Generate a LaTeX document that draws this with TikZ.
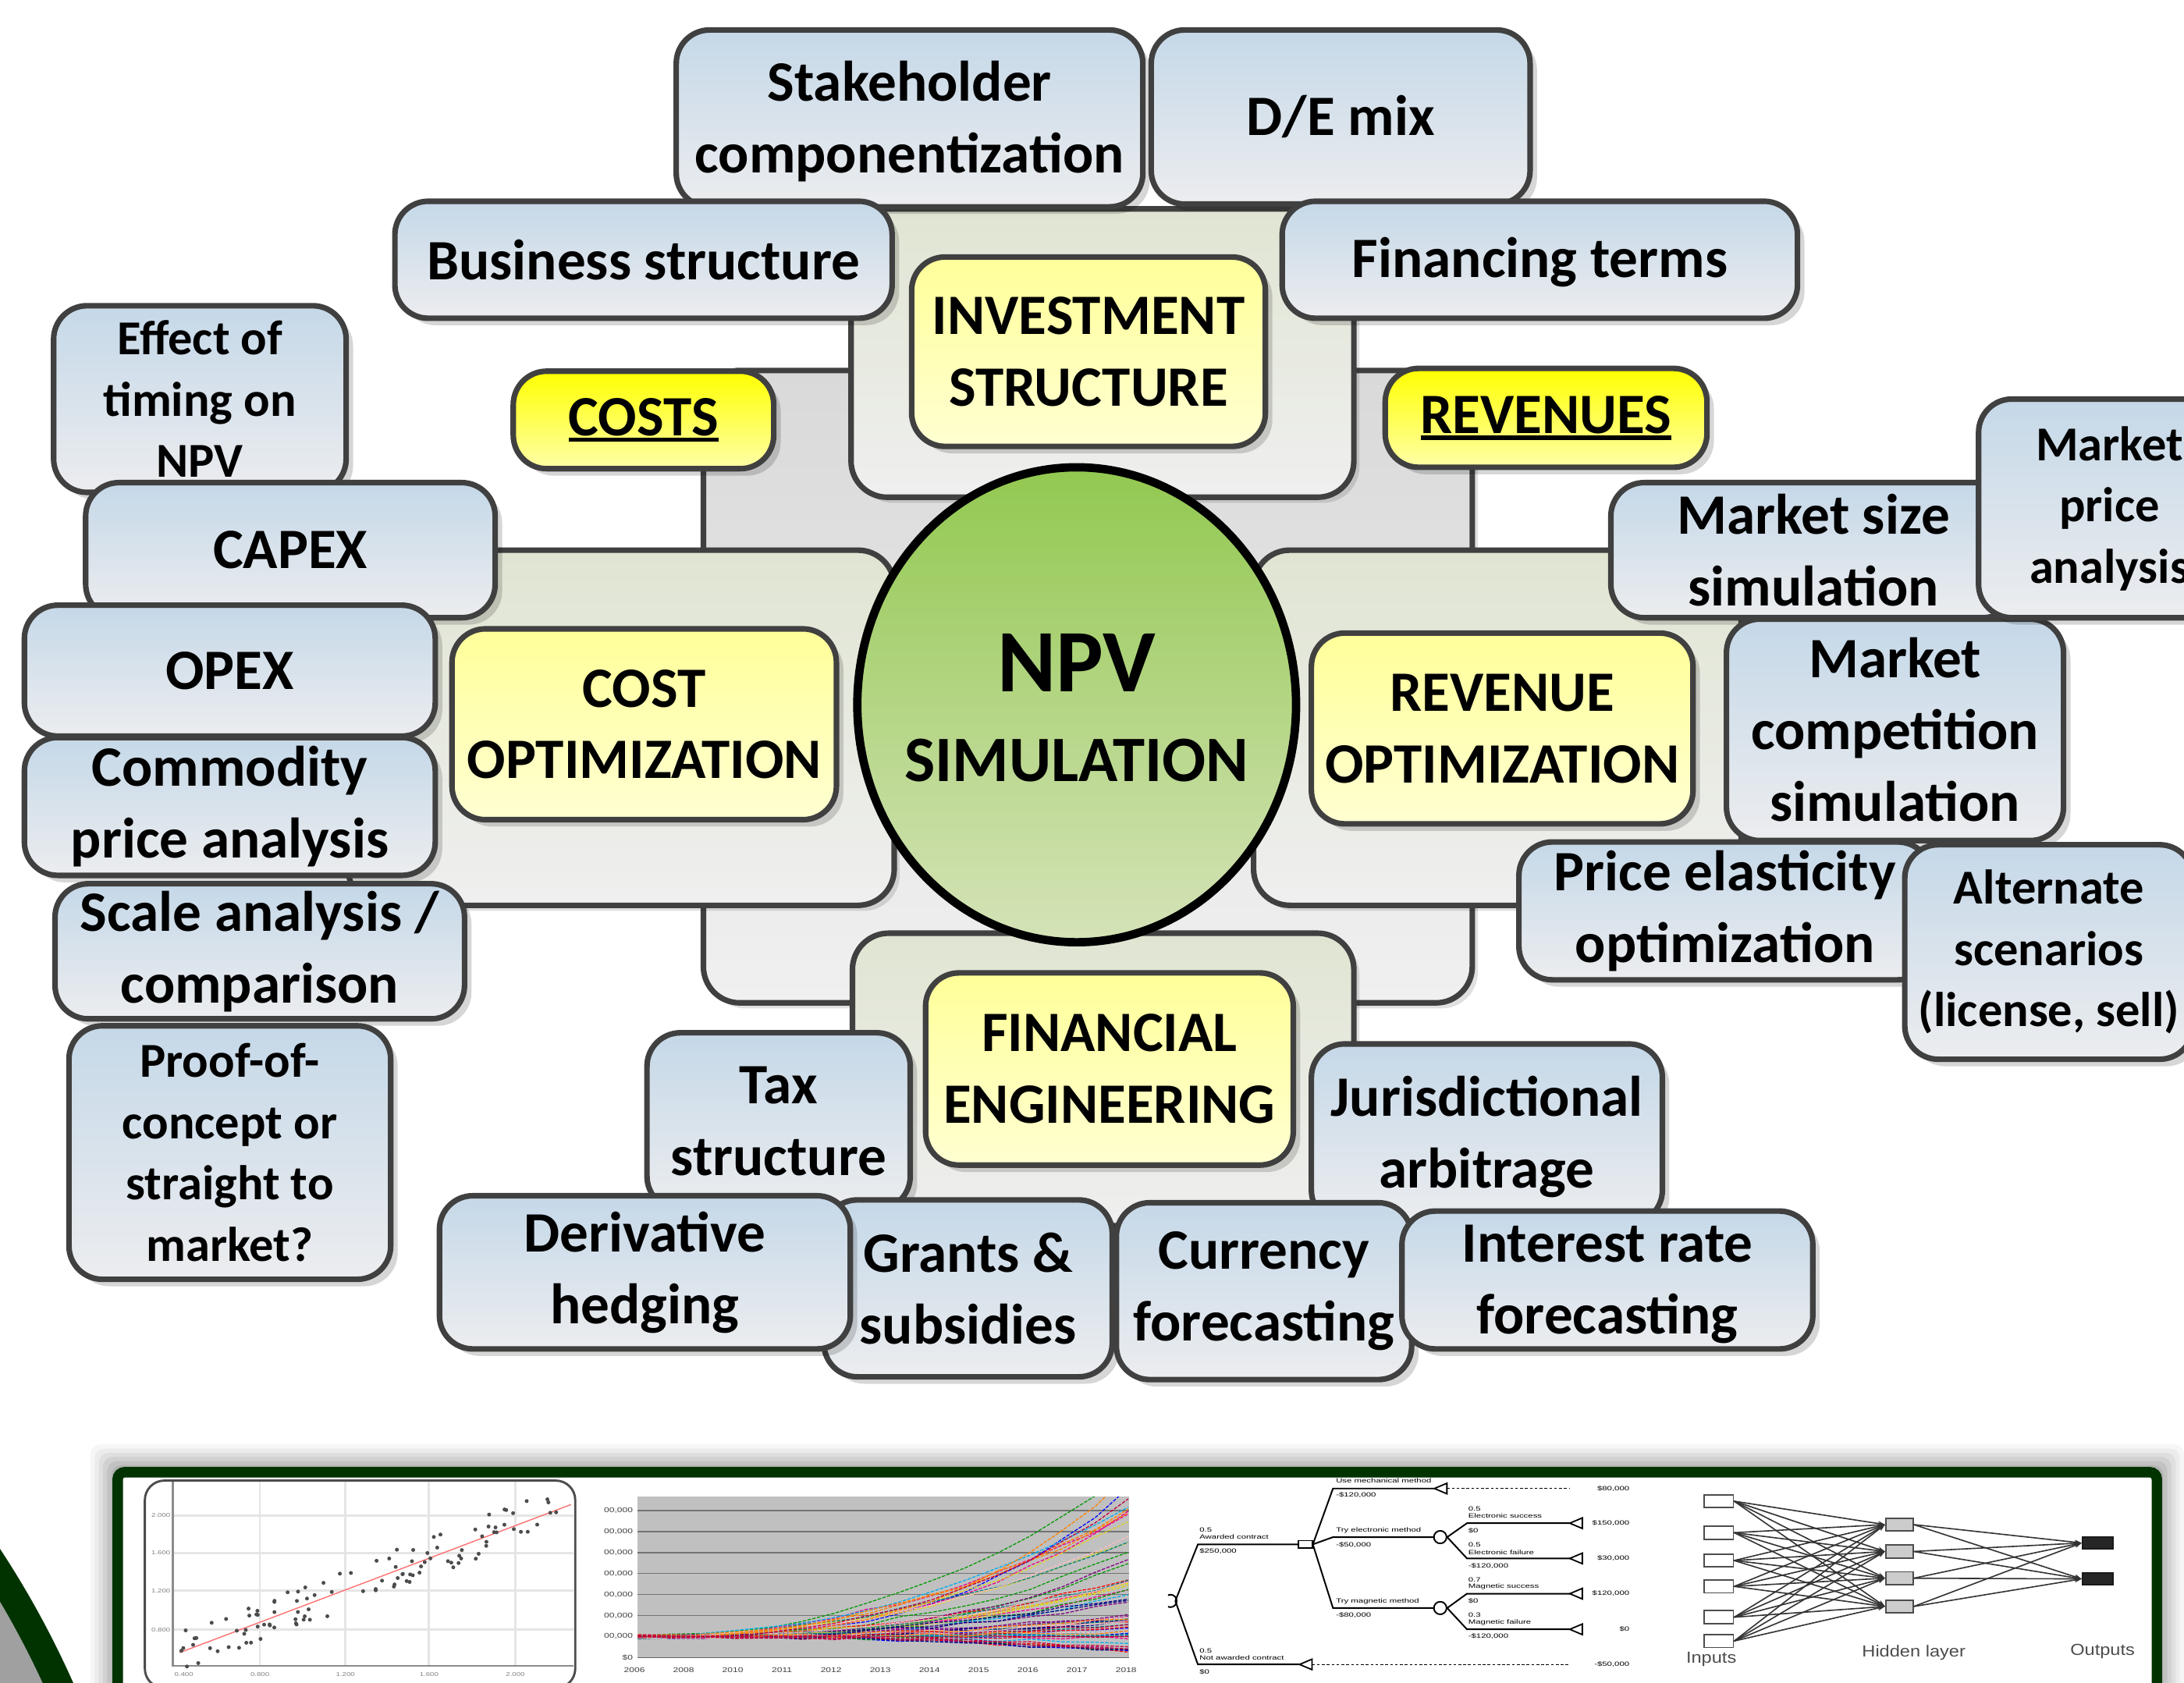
\documentclass[tikz,border=0pt]{standalone}
\usepackage{fontspec}
\setmainfont{Carlito}
\newfontfamily\treefont{Liberation Sans}[FakeStretch=1.45]
\newfontfamily\chartfont{Liberation Sans}[FakeStretch=1.35]
\newfontfamily\nnfont{Liberation Sans}[FakeStretch=1.15]
\usetikzlibrary{shapes.geometric,shadows,arrows.meta}

\definecolor{boxline}{HTML}{404040}
\definecolor{bluetop}{HTML}{C5D8E8}
\definecolor{bluebot}{HTML}{ECEDEF}
\definecolor{yeltop}{HTML}{FFFF99}
\definecolor{yelbot}{HTML}{FFFFD2}
\definecolor{brtop}{HTML}{FFFF00}
\definecolor{brbot}{HTML}{FFFFA8}
\definecolor{hubtop}{HTML}{D9D9D9}
\definecolor{hubbot}{HTML}{F0F0F0}
\definecolor{armtop}{HTML}{E0E5D2}
\definecolor{armbot}{HTML}{EFEFEF}
\definecolor{npvtop}{HTML}{92C850}
\definecolor{npvbot}{HTML}{D5E3B8}
\definecolor{framegreen}{HTML}{003300}
\definecolor{arcgray}{HTML}{A0A0A0}
\definecolor{plotgray}{HTML}{C0C0C0}

\newcommand{\cardfont}{\bfseries\fontsize{41}{51.5}\selectfont}
\newcommand{\smallcardfont}{\bfseries\fontsize{35}{44}\selectfont}
\newcommand{\undertext}[1]{\setbox0=\hbox{#1}\rlap{\rule[-4.5pt]{\wd0}{3pt}}\box0}
% raises the first line a little when the last line hangs below the baseline
\newcommand{\lift}{\rule{0pt}{33pt}}

\begin{document}
\begin{tikzpicture}[x=1pt,y=-1pt,
  card/.style={draw=boxline, line width=4pt, rounded corners=24pt, inner sep=0pt, align=center,
    drop shadow={shadow xshift=5pt, shadow yshift=-5pt, opacity=0.16, fill=black}},
  dims/.style 2 args={minimum width=#1pt, minimum height=#2pt},
  bluecard/.style={card, top color=bluetop, bottom color=bluebot, font=\cardfont},
  smallcard/.style={card, top color=bluetop, bottom color=bluebot, font=\smallcardfont},
  keycard/.style={card, top color=yeltop, bottom color=yelbot, font=\cardfont},
  tagcard/.style={card, top color=brtop, bottom color=brbot, font=\cardfont},
  plate/.style={draw=boxline, line width=4pt, rounded corners=26pt, inner sep=0pt,
    drop shadow={shadow xshift=4pt, shadow yshift=-4pt, opacity=0.12, fill=black}},
  hub/.style={plate, top color=hubtop, bottom color=hubbot},
  arm/.style={plate, top color=armtop, bottom color=armbot},
  treeline/.style={line width=1.1pt, draw=black},
  treetxt/.style={font=\treefont\fontsize{4.4}{5}\selectfont, inner sep=0pt, anchor=west},
  treeval/.style={font=\treefont\fontsize{4.4}{5}\selectfont, inner sep=0pt, anchor=east},
  tri/.style={draw=black, fill=white, line width=1pt},
  axlab/.style={font=\chartfont\fontsize{5}{6}\selectfont, inner sep=0.5pt, text=black!75},
  sclab/.style={font=\chartfont\fontsize{4}{5}\selectfont, inner sep=0.5pt, text=black!50},
  nnin/.style={draw=black!70, fill=white, line width=1pt, minimum width=21pt, minimum height=9.3pt, inner sep=0pt},
  nnhid/.style={draw=black!70, fill=black!20, line width=1pt, minimum width=19.6pt, minimum height=9.3pt, inner sep=0pt},
  nnout/.style={draw=black!90, fill=black!85, line width=1pt, minimum width=22pt, minimum height=8.6pt, inner sep=0pt},
  nnedge/.style={draw=black!80, line width=0.9pt, -{Stealth[length=5pt,width=3.6pt]}},
  nnlab/.style={font=\nnfont\fontsize{11.5}{12}\selectfont, text=black!70, inner sep=0pt}
]
\useasboundingbox (0,0) rectangle (1568,1208);
\clip (0,0) rectangle (1568,1208);
\fill[white] (0,0) rectangle (1568,1208);

% ---------- lower-left ring ----------
\draw[line width=20pt, draw=framegreen, fill=arcgray] (-560,1480) circle[radius=660];

% ---------- example panel ----------
\foreach \d/\o in {16/0.035, 13/0.04, 10/0.05, 7/0.06, 4/0.07, 1/0.08}
  \fill[black, opacity=\o, rounded corners=7pt] (81-\d,1053-\d) rectangle (1552+\d,1260);
\fill[white] (84.5,1057) rectangle (1548.5,1260);

\begin{scope}
\clip (88.5,1061) rectangle (1544.5,1208);

% scatter plot
\begin{scope}
  \clip[rounded corners=14pt] (104,1063) rectangle (413,1212);
  \foreach \gx in {186.6,248,308,370} \draw[black!10, line width=1.5pt] (\gx,1064) -- (\gx,1196);
  \foreach \gy in {1088,1115,1142,1170} \draw[black!10, line width=1.5pt] (124,\gy) -- (412,\gy);
  \draw[black!45, line width=1.6pt] (124,1064) -- (124,1196) -- (412,1196);
  \draw[red!55, line width=0.8pt] (129,1186.5) -- (410,1080.2);
  \pgfmathsetseed{11}
  \foreach \k in {1,...,110} {
    \pgfmathsetmacro\px{130+272*rnd}
    \pgfmathsetmacro\py{1186.5-(\px-129)*0.3786+15*rand}
    \fill[black!70] (\px,\py) circle[radius=1.4pt];
  }
  \foreach \gy/\t in {1088/2.000,1115/1.600,1142/1.200,1170/0.800}
    \node[sclab, anchor=east] at (123,\gy) {\t};
  \foreach \gx/\t in {132/0.400,186.6/0.800,248/1.200,308/1.600,370/2.000}
    \node[sclab] at (\gx,1202) {\t};
\end{scope}
\draw[black!70, line width=1.6pt, rounded corners=14pt] (104,1063) rectangle (413,1212);

% simulated paths chart
\begin{scope}
  \clip (457.7,1074.6) rectangle (810.6,1190);
  \fill[plotgray] (457.7,1074.6) rectangle (810.6,1190);
  \foreach \k in {1,...,7} \draw[black!55, line width=0.9pt] (457.7,1190-15.07*\k) -- (810.6,1190-15.07*\k);
  \pgfmathsetseed{42}
  \foreach \c in {blue, magenta, green!60!black, cyan, red, violet, yellow!85!black, blue!50!black, teal, pink, orange, purple} {
    \foreach \j in {1,2,3,4,5} {
      \pgfmathsetmacro\rise{-12+165*rnd*rnd}
      \pgfmathsetmacro\mix{rnd}
      \draw[\c, line width=0.7pt, dash pattern=on 2.5pt off 1pt]
        plot[domain=0:1, samples=16] ({458+352*\x},{1175-\rise*(\mix*\x*\x+(1-\mix)*\x*\x*\x)+1.4*rand});
    }
  }
\end{scope}
\draw[black!60, line width=0.8pt] (457.7,1190) -- (810.6,1190);
\node[axlab, anchor=east] at (455,1190) {\$0};
\foreach \k in {1,...,7} \node[axlab, anchor=east] at (455,1190-15.07*\k) {00,000};
\foreach \yr [count=\n from 0] in {2006,2008,2010,2011,2012,2013,2014,2015,2016,2017,2018}
  \node[axlab] at (455.5+35.3*\n,1199) {\yr};

% decision tree
\coordinate (root) at (843.8,1149.4);
\node[draw=black, fill=white, line width=1pt, minimum width=9.7pt, minimum height=5.4pt, inner sep=0pt] (dec) at (937.2,1108.8) {};
\node[draw=black, fill=white, circle, line width=1pt, minimum size=9pt, inner sep=0pt] (ch1) at (1034,1103.6) {};
\node[draw=black, fill=white, circle, line width=1pt, minimum size=9pt, inner sep=0pt] (ch2) at (1034,1154.5) {};
\coordinate (tm) at (1029.8,1068.7);
\coordinate (tmb) at (1038.8,1068.7);
\coordinate (tn) at (933,1195);
\coordinate (tnb) at (942,1195);
\coordinate (te1) at (1127,1093.6);
\coordinate (te2) at (1127,1118.9);
\coordinate (tg1) at (1127,1144.2);
\coordinate (tg2) at (1127,1169.8);
\begin{scope}
  \clip (838.5,1140) rectangle (850,1160);
  \draw[line width=1.1pt] (840.3,1149.4) circle[radius=4.5pt];
\end{scope}
\draw[treeline] (root) -- (860,1108.8) -- (dec.west);
\draw[treeline] (root) -- (860,1195) -- (tn);
\draw[treeline] (dec.east) -- (957,1068.7) -- (tm);
\draw[treeline] (dec.east) -- (957,1103.6) -- (ch1.west);
\draw[treeline] (dec.east) -- (957,1154.5) -- (ch2.west);
\draw[treeline] (ch1.east) -- (1053.2,1093.6) -- (te1);
\draw[treeline] (ch1.east) -- (1053.2,1118.9) -- (te2);
\draw[treeline] (ch2.east) -- (1053.2,1144.2) -- (tg1);
\draw[treeline] (ch2.east) -- (1053.2,1169.8) -- (tg2);
\draw[black, line width=0.6pt, dash pattern=on 2pt off 1.5pt] (tmb) -- (1127,1068.7);
\draw[black, line width=0.6pt, dash pattern=on 2pt off 1.5pt] (tnb) -- (1127,1195);
\foreach \t in {tm,tn,te1,te2,tg1,tg2}
  \draw[tri] (\t) -- ++(9,-3.8) -- ++(0,7.6) -- cycle;
\node[draw=black, fill=white, line width=1pt, minimum width=9.7pt, minimum height=5.4pt, inner sep=0pt] at (dec) {};
\node[draw=black, fill=white, circle, line width=1pt, minimum size=9pt, inner sep=0pt] at (ch1) {};
\node[draw=black, fill=white, circle, line width=1pt, minimum size=9pt, inner sep=0pt] at (ch2) {};

\node[treetxt] at (861,1098.6) {0.5};
\node[treetxt] at (861,1103.6) {Awarded contract};
\node[treetxt] at (861,1113.9) {\$250,000};
\node[treetxt] at (861,1185) {0.5};
\node[treetxt] at (861,1190) {Not awarded contract};
\node[treetxt] at (861,1200.3) {\$0};
\node[treetxt] at (959,1063.3) {Use mechanical method};
\node[treetxt] at (959,1073.3) {-\$120,000};
\node[treetxt] at (959,1099) {Try electronic method};
\node[treetxt] at (959,1109.3) {-\$50,000};
\node[treetxt] at (959,1149.5) {Try magnetic method};
\node[treetxt] at (959,1159.6) {-\$80,000};
\node[treetxt] at (1054,1083.4) {0.5};
\node[treetxt] at (1054,1088.5) {Electronic success};
\node[treetxt] at (1054,1099) {\$0};
\node[treetxt] at (1054,1109.3) {0.5};
\node[treetxt] at (1054,1114.4) {Electronic failure};
\node[treetxt] at (1054,1124.6) {-\$120,000};
\node[treetxt] at (1054,1134) {0.7};
\node[treetxt] at (1054,1139.2) {Magnetic success};
\node[treetxt] at (1054,1149.5) {\$0};
\node[treetxt] at (1054,1159.6) {0.3};
\node[treetxt] at (1054,1164.7) {Magnetic failure};
\node[treetxt] at (1054,1175) {-\$120,000};
\node[treeval] at (1170,1068.7) {\$80,000};
\node[treeval] at (1170,1093.6) {\$150,000};
\node[treeval] at (1170,1118.9) {\$30,000};
\node[treeval] at (1170,1144.2) {\$120,000};
\node[treeval] at (1170,1169.8) {\$0};
\node[treeval] at (1170,1195) {-\$50,000};

% neural network
\foreach \i/\yy in {1/1077.8,2/1100.4,3/1120.4,4/1139,5/1161.1,6/1178.2}
  \node[nnin] (in\i) at (1234,\yy) {};
\foreach \j/\yy in {1/1094.6,2/1113.9,3/1133.1,4/1153.4}
  \node[nnhid] (h\j) at (1363.6,\yy) {};
\node[nnout] (o1) at (1506,1107.8) {};
\node[nnout] (o2) at (1506,1133.6) {};
\foreach \i in {1,...,6} \foreach \j in {1,...,4}
  \draw[nnedge] (in\i.east) -- (h\j.west);
\foreach \j in {1,...,4} \foreach \k in {1,2}
  \draw[nnedge] (h\j.east) -- (o\k.west);
\node[nnlab] (nnin) at (1228.6,1191.4) {Inputs};
\node[nnlab] (nnhid) at (1374,1186.5) {Hidden layer};
\node[nnlab] (nnout) at (1509.5,1185.8) {Outputs};
\end{scope}
\draw[framegreen, line width=7.5pt, rounded corners=5pt] (84.5,1057) rectangle (1548.5,1260);

% ---------- central hub and arms ----------
\node[hub, dims={552}{454}] (hubplate) at (781,493) {};
\node[arm, dims={361}{207}] (armtop) at (791.5,253.5) {};
\node[arm, dims={392}{255}] (armleft) at (446,522.5) {};
\node[arm, dims={350}{255}] (armright) at (1075,522.5) {};
\node[arm, dims={360}{210}] (armbottom) at (792,775) {};

\node[ellipse, draw=black, line width=6pt, top color=npvtop, bottom color=npvbot, minimum width=315pt, minimum height=341pt, inner sep=0pt] (npv) at (773,506) {};
\node[font=\bfseries\fontsize{64}{64}\selectfont, inner sep=0pt] (npvtitle) at (773,476) {NPV};
\node[font=\bfseries\fontsize{46.5}{46.5}\selectfont, inner sep=0pt] (npvsub) at (773,546) {SIMULATION};

% ---------- investment structure ----------
\node[bluecard, dims={335}{127}] (stake) at (653,85) {\lift Stakeholder\\componentization};
\node[bluecard, dims={272}{125}] (demix) at (962.5,84) {D/E mix};
\node[bluecard, dims={357}{84}] (busstruct) at (462,186.5) {Business structure};
\node[bluecard, dims={370}{84}] (finterms) at (1105.5,186.5) {\rule{0pt}{32pt}Financing terms};
\node[keycard, dims={254}{136}] (invest) at (781.5,252.5) {INVESTMENT\\STRUCTURE};
\node[tagcard, dims={187}{70}] (costs) at (462,301.5) {\undertext{COSTS}};
\node[tagcard, dims={231}{71}] (revenues) at (1110,300) {\undertext{REVENUES}};

% ---------- cost side ----------
\node[smallcard, dims={210}{134}] (timing) at (143.5,286.5) {Effect of\\timing on\\NPV};
\node[bluecard, dims={294}{97}] (capex) at (208.5,395) {CAPEX};
\node[bluecard, dims={295}{94}] (opex) at (165,481.5) {OPEX};
\node[bluecard, dims={295}{99}] (commodity) at (165,579) {Commodity\\price analysis};
\node[keycard, dims={276}{137}] (costopt) at (462.5,520) {COST\\OPTIMIZATION};
\node[bluecard, dims={294}{97}] (scale) at (186.5,683) {Scale analysis /\\comparison};
\node[smallcard, dims={231}{182}] (proof) at (165,827.5) {Proof-of-\\concept or\\straight to\\market?};

% ---------- revenue side ----------
\node[keycard, dims={274}{137}] (revopt) at (1078.5,523) {REVENUE\\OPTIMIZATION};
\node[bluecard, dims={291}{97}] (msize) at (1302,395) {Market size\\simulation};
\node[bluecard, dims={242}{159}] (mcomp) at (1360.5,524) {Market\\competition\\simulation};
\node[smallcard, dims={188}{157}] (mprice) at (1514.5,365) {Market\\price\\analysis};
\node[bluecard, dims={296}{99}] (elastic) at (1238.5,654) {Price elasticity\\optimization};
\node[smallcard, dims={207}{154}] (altern) at (1471,683.5) {Alternate\\scenarios\\(license, sell)};

% ---------- financial engineering ----------
\node[keycard, dims={264}{138}] (fineng) at (796.5,767.5) {FINANCIAL\\ENGINEERING};
\node[bluecard, dims={189}{127}] (tax) at (559,805) {Tax\\structure};
\node[bluecard, dims={252}{129}] (juris) at (1067.5,814) {\lift Jurisdictional\\arbitrage};
\node[bluecard, dims={207}{127}] (grants) at (695,925) {Grants \&\\subsidies};
\node[bluecard, dims={295}{110}] (hedging) at (463,913.5) {Derivative\\hedging};
\node[bluecard, dims={212}{127}] (currency) at (907.5,927) {Currency\\forecasting};
\node[bluecard, dims={295}{99}] (interest) at (1154,919) {\lift Interest rate\\forecasting};
\end{tikzpicture}
\end{document}
